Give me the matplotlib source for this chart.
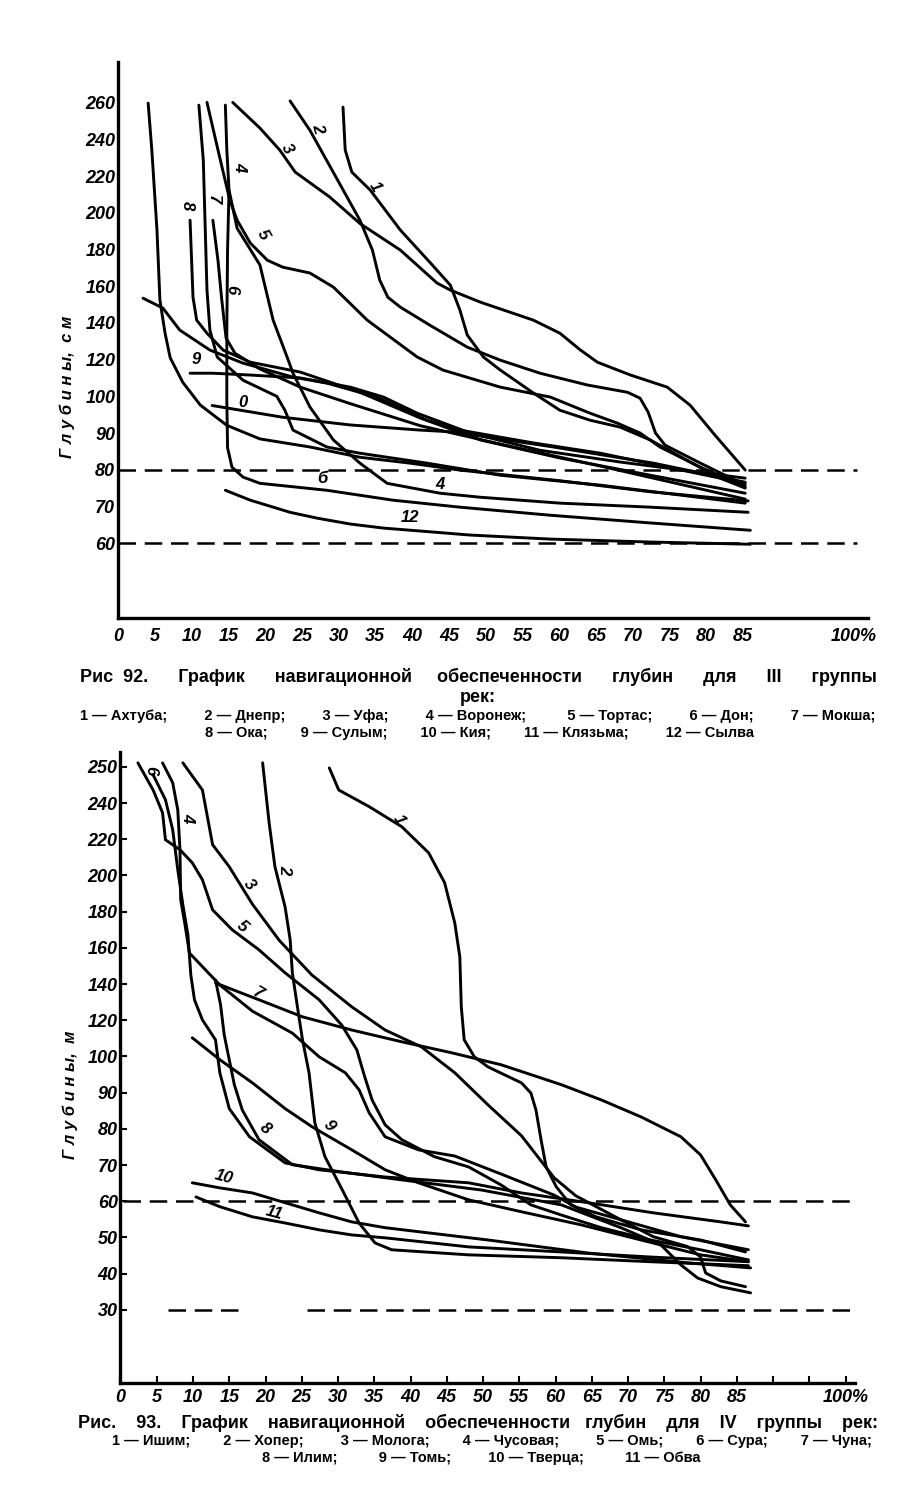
import numpy as np
import matplotlib
matplotlib.use("Agg")
import matplotlib.pyplot as plt

# ---------- Рис. 92: III группа рек, глубины в см ----------
f92_yticks = [60, 70, 80, 90, 100, 120, 140, 160, 180, 200, 220, 240, 260]
f92_xticks = [0, 5, 10, 15, 20, 25, 30, 35, 40, 45, 50, 55, 60, 65, 70, 75, 80, 85, 100]
f92_levels = [80, 60]

f92_x1 = [30.6, 30.9, 31.8, 34.3, 38.4, 42.4, 45.2, 46.5, 47.5, 49.7, 52.0, 56.5, 60.1, 64.2, 68.3, 72.4, 77.8, 81.9, 85.3]
f92_y1 = [257.6, 234.2, 222.2, 212.4, 190.6, 173.1, 160.6, 147.0, 133.4, 121.4, 114.3, 101.8, 96.2, 93.5, 91.6, 88.1, 82.1, 77.7, 75.0]
f92_x2 = [23.4, 26.1, 29.5, 32.9, 34.6, 35.6, 36.7, 38.4, 42.4, 47.5, 52.0, 57.4, 63.8, 69.3, 71.0, 72.1, 73.1, 74.4, 79.2, 85.3]
f92_y2 = [261.0, 245.0, 220.5, 196.0, 179.7, 163.3, 154.0, 148.6, 138.8, 126.8, 119.7, 112.6, 106.2, 102.2, 99.5, 95.7, 90.0, 86.7, 81.8, 75.8]
f92_x3 = [15.6, 19.3, 22.0, 24.1, 28.8, 32.9, 38.4, 43.4, 45.2, 49.3, 56.5, 60.1, 62.9, 65.2, 69.7, 74.7, 77.8, 81.2, 85.3]
f92_y3 = [260.2, 246.2, 234.2, 222.2, 208.6, 194.2, 179.7, 161.7, 157.9, 151.3, 141.5, 134.4, 125.2, 118.6, 111.6, 105.0, 97.6, 89.4, 79.9]
f92_x4 = [14.6, 14.8, 15.1, 15.6, 16.2, 18.0, 19.3, 21.1, 23.0, 23.8, 26.1, 29.3, 32.9, 36.6, 43.8, 49.3, 60.1, 72.4, 85.7]
f92_y4 = [258.7, 234.2, 212.4, 203.0, 191.6, 180.0, 171.6, 141.5, 121.4, 112.6, 97.1, 88.1, 81.8, 76.3, 73.6, 72.5, 70.9, 69.8, 68.4]
f92_x5 = [12.1, 13.6, 15.2, 16.2, 18.0, 20.3, 22.4, 26.1, 29.3, 33.9, 40.7, 44.2, 52.0, 58.8, 64.2, 67.9, 71.0, 73.7, 79.2, 85.3]
f92_y5 = [260.2, 234.2, 207.0, 196.0, 183.5, 174.2, 170.4, 167.2, 159.5, 141.5, 121.4, 114.3, 105.0, 99.8, 95.4, 92.7, 90.0, 86.2, 80.7, 75.3]
f92_x6 = [15.1, 14.9, 14.8, 14.8, 14.9, 15.5, 17.0, 19.3, 28.4, 37.4, 46.5, 58.8, 72.4, 86.0]
f92_y6 = [212.0, 180.0, 136.0, 99.0, 86.0, 80.7, 78.0, 76.3, 74.4, 71.7, 69.8, 67.6, 65.5, 63.5]
f92_x7 = [12.9, 13.6, 14.1, 14.7, 15.9, 19.3, 24.8, 31.6, 41.1, 52.0, 65.6, 85.3]
f92_y7 = [196.0, 174.0, 153.0, 131.7, 123.5, 114.9, 105.0, 98.0, 92.0, 87.0, 81.0, 72.0]
f92_x8 = [9.8, 10.2, 10.7, 12.1, 14.3, 18.0, 24.8, 32.9, 41.1, 49.3, 60.1, 72.4, 85.3]
f92_y8 = [196.0, 154.0, 141.5, 134.4, 125.2, 118.6, 113.2, 102.2, 94.1, 88.1, 83.2, 78.5, 73.6]
f92_x9 = [9.8, 12.9, 18.0, 24.8, 31.6, 36.1, 40.7, 47.9, 57.4, 68.3, 85.3]
f92_y9 = [112.6, 112.6, 111.6, 110.0, 105.0, 99.8, 95.4, 90.0, 85.3, 82.1, 77.7]
f92_x10 = [12.8, 22.4, 31.6, 41.1, 45.6, 59.2, 72.8, 85.3]
f92_y10 = [97.5, 94.3, 92.2, 90.8, 90.3, 86.2, 81.8, 76.6]
f92_x11 = [4.1, 4.6, 5.3, 5.7, 6.4, 7.1, 8.8, 11.2, 14.8, 19.3, 26.1, 32.9, 39.7, 46.5, 60.1, 72.4, 85.7]
f92_y11 = [259.8, 234.2, 190.6, 152.4, 134.4, 121.0, 107.7, 97.6, 92.1, 88.4, 86.2, 83.4, 81.8, 79.9, 77.0, 74.0, 71.5]
f92_x12 = [14.6, 18.0, 23.4, 27.1, 31.6, 36.1, 41.1, 47.9, 58.8, 72.4, 86.0]
f92_y12 = [74.4, 71.7, 68.4, 66.8, 65.2, 64.1, 63.3, 62.2, 61.1, 60.3, 59.7]
# two more unnumbered strokes of the drawing
f92_xa = [11.0, 11.6, 12.1, 12.5, 13.5, 17.0, 21.6, 22.7, 23.8, 28.4, 32.9, 42.0, 52.0, 65.6, 85.3]
f92_ya = [258.7, 228.7, 157.9, 136.1, 121.4, 108.8, 100.0, 96.2, 90.8, 86.2, 84.5, 81.8, 78.5, 75.8, 70.9]
f92_xb = [3.4, 6.1, 8.4, 12.5, 17.0, 23.8, 28.4, 35.2, 42.0, 46.5, 56.5, 65.6, 74.7, 85.3]
f92_yb = [153.5, 148.1, 136.1, 125.2, 118.1, 110.5, 107.2, 99.8, 93.5, 90.8, 87.3, 84.5, 80.7, 76.3]

# ---------- Рис. 93: IV группа рек, глубины в м ----------
f93_yticks = [30, 40, 50, 60, 70, 80, 90, 100, 120, 140, 160, 180, 200, 220, 240, 250]
f93_xticks = [0, 5, 10, 15, 20, 25, 30, 35, 40, 45, 50, 55, 60, 65, 70, 75, 80, 85, 90, 95, 100]
f93_levels = [60, 30]

f93_x1 = [28.8, 30.1, 34.3, 38.8, 42.5, 44.7, 46.1, 46.8, 47.0, 47.4, 48.8, 50.7, 55.3, 56.6, 57.3, 58.0, 58.7, 60.1, 62.1, 65.6, 71.8, 80.0, 86.2]
f93_y1 = [249.7, 243.6, 238.0, 226.9, 212.5, 196.0, 173.8, 155.0, 127.4, 109.2, 99.9, 97.1, 92.7, 89.9, 85.2, 77.0, 69.5, 64.0, 59.0, 55.7, 52.1, 49.3, 46.0]
f93_x2 = [19.6, 20.5, 21.3, 22.7, 23.4, 23.7, 24.4, 25.1, 26.0, 26.8, 28.2, 30.6, 32.9, 35.1, 37.4, 48.0, 60.8, 73.1, 86.6]
f93_y2 = [251.1, 229.0, 204.8, 182.6, 164.4, 146.2, 127.4, 109.2, 95.5, 81.7, 72.3, 63.1, 54.0, 48.5, 46.6, 45.2, 44.4, 43.3, 42.2]
f93_x3 = [8.6, 11.3, 12.7, 15.0, 18.2, 21.9, 26.4, 31.9, 36.5, 41.5, 46.1, 50.7, 55.3, 59.8, 62.8, 69.0, 77.3, 86.6]
f93_y3 = [251.1, 243.6, 217.0, 204.8, 184.1, 164.1, 145.0, 127.4, 114.6, 105.3, 95.5, 86.6, 78.1, 66.5, 61.5, 54.9, 50.2, 46.6]
f93_x4 = [5.8, 7.2, 7.9, 8.2, 8.3, 8.9, 9.5, 13.7, 18.2, 23.7, 27.4, 31.0, 32.9, 34.3, 36.5, 41.1, 46.1, 52.9, 59.8, 62.8, 69.0, 73.5, 78.2, 80.0, 80.7, 82.8, 86.2]
f93_y4 = [251.1, 245.6, 236.2, 214.2, 186.6, 172.7, 157.2, 139.5, 125.0, 112.9, 99.9, 95.5, 90.8, 84.4, 77.8, 74.2, 72.5, 67.2, 61.7, 58.4, 54.9, 50.2, 47.5, 44.6, 40.2, 38.0, 36.4]
f93_x5 = [2.4, 4.5, 5.8, 6.2, 8.2, 9.9, 11.3, 12.7, 15.4, 19.1, 22.7, 27.4, 30.5, 32.6, 33.6, 34.7, 36.5, 38.8, 43.3, 48.0, 52.5, 56.6, 60.8, 66.3, 73.1, 80.0, 86.6]
f93_y5 = [251.1, 243.6, 234.6, 219.7, 214.2, 207.0, 197.6, 181.0, 170.0, 158.9, 146.2, 131.3, 117.4, 103.6, 94.9, 88.0, 81.1, 77.0, 72.3, 69.5, 64.5, 59.0, 56.2, 52.7, 49.3, 46.6, 43.8]
f93_x6 = [4.5, 6.2, 7.2, 7.9, 8.6, 9.3, 9.7, 10.2, 11.3, 13.1, 13.7, 15.0, 17.8, 22.7, 27.4, 36.5, 48.0, 55.3, 64.5, 73.5, 82.8, 86.6]
f93_y6 = [247.8, 240.9, 225.2, 203.1, 183.8, 167.2, 145.0, 131.3, 120.2, 109.2, 95.5, 85.6, 77.8, 70.6, 68.7, 66.7, 65.1, 62.3, 59.6, 56.8, 54.3, 53.2]
f93_x7 = [13.1, 19.1, 25.1, 31.9, 38.8, 45.7, 52.5, 60.8, 66.3, 71.8, 77.3, 80.0, 82.1, 84.1, 86.2]
f93_y7 = [140.6, 131.3, 121.9, 114.6, 108.1, 102.0, 97.7, 92.2, 88.0, 83.3, 77.8, 72.8, 65.9, 59.0, 54.3]
f93_x8 = [13.1, 13.8, 14.3, 15.0, 15.7, 16.8, 19.1, 23.7, 30.5, 38.8, 49.8, 60.8, 69.0, 74.5, 77.3, 79.6, 82.8, 86.9]
f93_y8 = [142.3, 128.5, 112.0, 99.1, 92.2, 85.2, 77.0, 70.1, 68.1, 65.9, 63.1, 59.0, 52.7, 48.0, 42.4, 38.8, 36.4, 34.7]
f93_x9 = [9.9, 13.7, 18.2, 22.7, 26.4, 31.9, 36.5, 41.1, 48.0, 55.3, 63.5, 71.8, 80.0, 86.6]
f93_y9 = [110.3, 99.1, 92.7, 85.6, 80.6, 74.2, 68.7, 65.1, 60.4, 57.1, 53.5, 49.3, 45.2, 43.3]
f93_x10 = [9.9, 13.7, 18.2, 22.7, 27.4, 31.9, 36.5, 41.5, 50.7, 64.5, 78.2, 86.9]
f93_y10 = [65.1, 63.7, 62.3, 59.6, 56.8, 54.3, 52.7, 51.5, 49.3, 45.7, 43.0, 41.6]
f93_x11 = [10.4, 13.7, 18.2, 22.7, 27.4, 31.9, 36.5, 48.0, 60.8, 73.1, 86.6]
f93_y11 = [61.2, 58.5, 55.7, 54.0, 52.1, 50.7, 49.9, 47.4, 46.0, 44.6, 43.3]

cap92 = ["Рис  92.", "График", "навигационной", "обеспеченности", "глубин", "для", "III", "группы"]
cap92_b = "рек:"
leg92_a = ["1 — Ахтуба;", "2 — Днепр;", "3 — Уфа;", "4 — Воронеж;", "5 — Тортас;", "6 — Дон;", "7 — Мокша;"]
leg92_b = ["8 — Ока;", "9 — Сулым;", "10 — Кия;", "11 — Клязьма;", "12 — Сылва"]
cap93 = ["Рис.", "93.", "График", "навигационной", "обеспеченности", "глубин", "для", "IV", "группы", "рек:"]
leg93_a = ["1 — Ишим;", "2 — Хопер;", "3 — Молога;", "4 — Чусовая;", "5 — Омь;", "6 — Сура;", "7 — Чуна;"]
leg93_b = ["8 — Илим;", "9 — Томь;", "10 — Тверца;", "11 — Обва"]

W, H = 915, 1485
fig = plt.figure(figsize=(W / 100, H / 100), dpi=100)
fig.patch.set_facecolor("white")

SANS = ["Liberation Sans", "DejaVu Sans"]
tick_font = dict(family=SANS, style="italic", weight="bold", size=13)
lab_font = dict(family=SANS, style="italic", weight="bold", size=12)


def fx(px):
    return px / W


def fy(py):
    return 1 - py / H


def step_scale(vals, pos):
    vals = np.asarray(vals, float)
    pos = np.asarray(pos, float)

    def fwd(v):
        return np.interp(v, vals, pos)

    def inv(p):
        return np.interp(p, pos, vals)
    return fwd, inv


def setup(ax, yticks, ext_lo, ext_hi, xticks, xlim, ylim, ticklen, xpad):
    vals = [ext_lo[0]] + list(yticks) + [ext_hi[0]]
    pos = [ext_lo[1]] + list(range(len(yticks))) + [ext_hi[1]]
    ax.set_yscale("function", functions=step_scale(vals, pos))
    ax.set_xlim(*xlim)
    ax.set_ylim(*ylim)
    ax.set_yticks(yticks)
    ax.set_yticklabels([str(v) for v in yticks], **tick_font)
    ax.set_xticks(xticks)
    xl = []
    for v in xticks:
        if v == 100:
            xl.append("100%")
        elif v > 85:
            xl.append("")
        else:
            xl.append(str(v))
    ax.set_xticklabels(xl, **tick_font)
    ax.yaxis.set_minor_locator(matplotlib.ticker.NullLocator())
    ax.tick_params(direction="in", length=ticklen, width=1.5)
    ax.tick_params(axis="y", pad=2)
    ax.tick_params(axis="x", pad=xpad)
    for s in ("top", "right"):
        ax.spines[s].set_visible(False)
    for s in ("left", "bottom"):
        ax.spines[s].set_linewidth(2.4)
    ax.patch.set_alpha(0)


def curves(ax, pairs):
    for x, y in pairs:
        ax.plot(x, y, color="black", lw=2.1, solid_capstyle="round",
                solid_joinstyle="round")


def justify(chunks, left, right, ybase, **kw):
    # one text per line; gaps filled with spaces so the line spans left..right
    r = fig.canvas.get_renderer()

    def width(s):
        t = fig.text(0, 0, s, **kw)
        w = t.get_window_extent(r).width
        t.remove()
        return w

    sw = (width("x" + " " * 20 + "x") - width("xx")) / 20
    ws = [width(c) for c in chunks]
    per = ((right - left) - sum(ws)) / (len(chunks) - 1)
    line = chunks[0]
    end = ws[0]
    for i in range(1, len(chunks)):
        target = sum(ws[:i]) + per * i
        n = max(1, int(round((target - end) / sw)))
        line += " " * n + chunks[i]
        end += n * sw + ws[i]
    fig.text(fx(left), fy(ybase), line, ha="left", va="baseline", **kw)


dash = (0, (7, 3.5))

# ---------- top chart ----------
ax1 = fig.add_axes([fx(118), fy(618), (868 - 118) / W, (618 - 62) / H])
setup(ax1, f92_yticks, (20, -4), (300, 14), f92_xticks, (0, 102.0), (39.6, 282.2), 0, 7)
for lv in f92_levels:
    ax1.hlines(lv, 0, 100.5, colors="black", lw=1.8, linestyles=dash)
curves(ax1, [(f92_x1, f92_y1), (f92_x2, f92_y2), (f92_x3, f92_y3), (f92_x4, f92_y4),
             (f92_x5, f92_y5), (f92_x6, f92_y6), (f92_x7, f92_y7), (f92_x8, f92_y8),
             (f92_x9, f92_y9), (f92_x10, f92_y10), (f92_x11, f92_y11), (f92_x12, f92_y12),
             (f92_xa, f92_ya), (f92_xb, f92_yb)])
for s, x, y, rot in [("1", 35.0, 214, -60), ("2", 27.2, 246, -75), ("3", 23.0, 235, -60),
                     ("4", 16.6, 225, -90), ("5", 19.7, 188, -60), ("6", 15.5, 158, -90),
                     ("7", 12.9, 207, -90), ("8", 9.4, 204, -90), ("9", 10.7, 120, 0),
                     ("0", 17.0, 98.4, 0), ("б", 27.8, 77.5, 0), ("4", 43.8, 76.0, 0),
                     ("12", 39.7, 67.0, 0)]:
    ax1.text(x, y, s, rotation=rot, ha="center", va="center", **lab_font)

fig.text(fx(67), fy(387), "Г л у б и н ы,  с м", rotation=90, ha="center", va="center",
         family=SANS, style="italic", weight="bold", size=12)

# ---------- bottom chart ----------
ax2 = fig.add_axes([fx(120.5), fy(1383), (855 - 120.5) / W, (1383 - 752) / H])
setup(ax2, f93_yticks, (0, -3), (270, 17), f93_xticks, (0.4, 101.3), (9.8, 254.1), 5, 4)
ax2.hlines(f93_levels[0], 0.4, 101.3, colors="black", lw=1.8, linestyles=dash)
ax2.hlines(f93_levels[1], 6.5, 16.8, colors="black", lw=1.8, linestyles=dash)
ax2.hlines(f93_levels[1], 25.7, 101.0, colors="black", lw=1.8, linestyles=dash)
curves(ax2, [(f93_x1, f93_y1), (f93_x2, f93_y2), (f93_x3, f93_y3), (f93_x4, f93_y4),
             (f93_x5, f93_y5), (f93_x6, f93_y6), (f93_x7, f93_y7), (f93_x8, f93_y8),
             (f93_x9, f93_y9), (f93_x10, f93_y10), (f93_x11, f93_y11)])
for s, x, y, rot in [("1", 38.4, 231, -60), ("2", 22.7, 203, -90), ("3", 17.8, 195, -50),
                     ("4", 9.3, 232, -90), ("5", 16.8, 172, -40), ("6", 4.2, 249, -90),
                     ("7", 19.0, 135, -30), ("8", 20.0, 80, -40), ("9", 28.8, 81, -50),
                     ("10", 14.3, 66.7, -15), ("11", 21.2, 56.8, -15)]:
    ax2.text(x, y, s, rotation=rot, ha="center", va="center", **lab_font)

fig.text(fx(70), fy(1095), "Г л у б и н ы,  м", rotation=90, ha="center", va="center",
         family=SANS, style="italic", weight="bold", size=12)

# ---------- captions ----------
cap_font = dict(family="Liberation Sans", weight="bold")
justify(cap92, 80, 875, 682, size=13, **cap_font)
fig.text(fx(478), fy(702), cap92_b, ha="center", va="baseline", size=13, **cap_font)
justify(leg92_a, 80, 875, 720, size=10.5, **cap_font)
justify(leg92_b, 205, 752, 737, size=10.5, **cap_font)
justify(cap93, 78, 878, 1428, size=13, **cap_font)
justify(leg93_a, 112, 873, 1445, size=10.5, **cap_font)
justify(leg93_b, 262, 700, 1462, size=10.5, **cap_font)

fig.savefig("out.png", dpi=100, facecolor="white")
